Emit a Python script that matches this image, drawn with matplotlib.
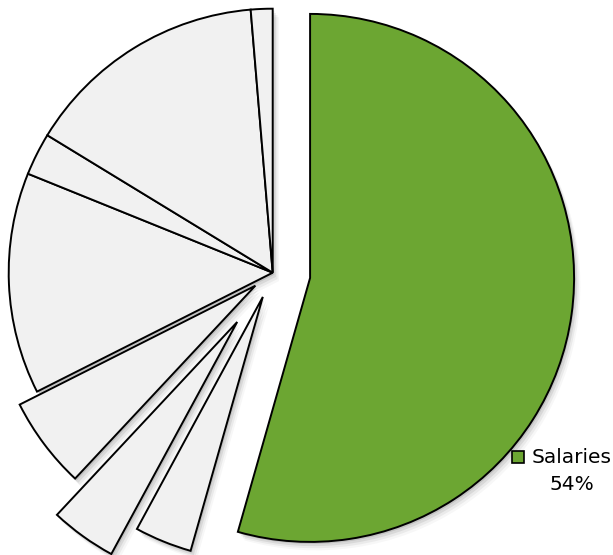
import numpy as np
import matplotlib.pyplot as plt
from matplotlib.patches import Rectangle

# Budget split, clockwise from the top
labels = ["Salaries", "Item 2", "Item 3", "Item 4", "Item 5", "Item 6", "Item 7", "Item 8"]
shares = [54.4, 3.5, 4.05, 5.6, 13.55, 2.6, 14.95, 1.33]
explode = [0.143, 0.099, 0.23, 0.082, 0.0, 0.0, 0.0, 0.0]

green = "#6ca632"
grey = "#f1f1f1"
colors = [green] + [grey] * (len(shares) - 1)

W, H, dpi = 613, 555, 100
fig = plt.figure(figsize=(W / dpi, H / dpi), dpi=dpi)
ax = fig.add_axes([0, 0, 1, 1])

# soft drop shadow: a few faint copies nudged down-right
for k, a in [(1, 0.10), (2, 0.07), (3, 0.05), (4, 0.03)]:
    sw, _ = ax.pie(shares, explode=explode, startangle=90, counterclock=False,
                   colors=["#000000"] * len(shares), radius=1.0,
                   wedgeprops=dict(linewidth=0, alpha=a))
    for w in sw:
        cx, cy = w.center
        w.set_center((cx + k * 0.006, cy - k * 0.008))

wedges, _ = ax.pie(shares, explode=explode, startangle=90, counterclock=False,
                   colors=colors, radius=1.0,
                   wedgeprops=dict(edgecolor="black", linewidth=1.4))

# pixel-based limits so the pie keeps its size on the canvas
cx_px, cy_px, r_px = 272.7, 272.7, 264.0
ax.set_xlim(-cx_px / r_px, (W - cx_px) / r_px)
ax.set_ylim(-(H - cy_px) / r_px, cy_px / r_px)
ax.set_aspect("auto")
ax.axis("off")

# key for the highlighted slice
ax.add_patch(Rectangle((512 / W, 1 - 463 / H), 12 / W, 12 / H, transform=ax.transAxes,
                       facecolor=green, edgecolor="black", linewidth=1.2))
ax.text(572 / W, 1 - 463 / H, labels[0], transform=ax.transAxes,
        ha="center", va="baseline", fontsize=14.5, family="DejaVu Sans")
ax.text(572 / W, 1 - 490 / H, "%.0f%%" % shares[0], transform=ax.transAxes,
        ha="center", va="baseline", fontsize=14.5, family="DejaVu Sans")

fig.savefig("out.png", dpi=dpi)
